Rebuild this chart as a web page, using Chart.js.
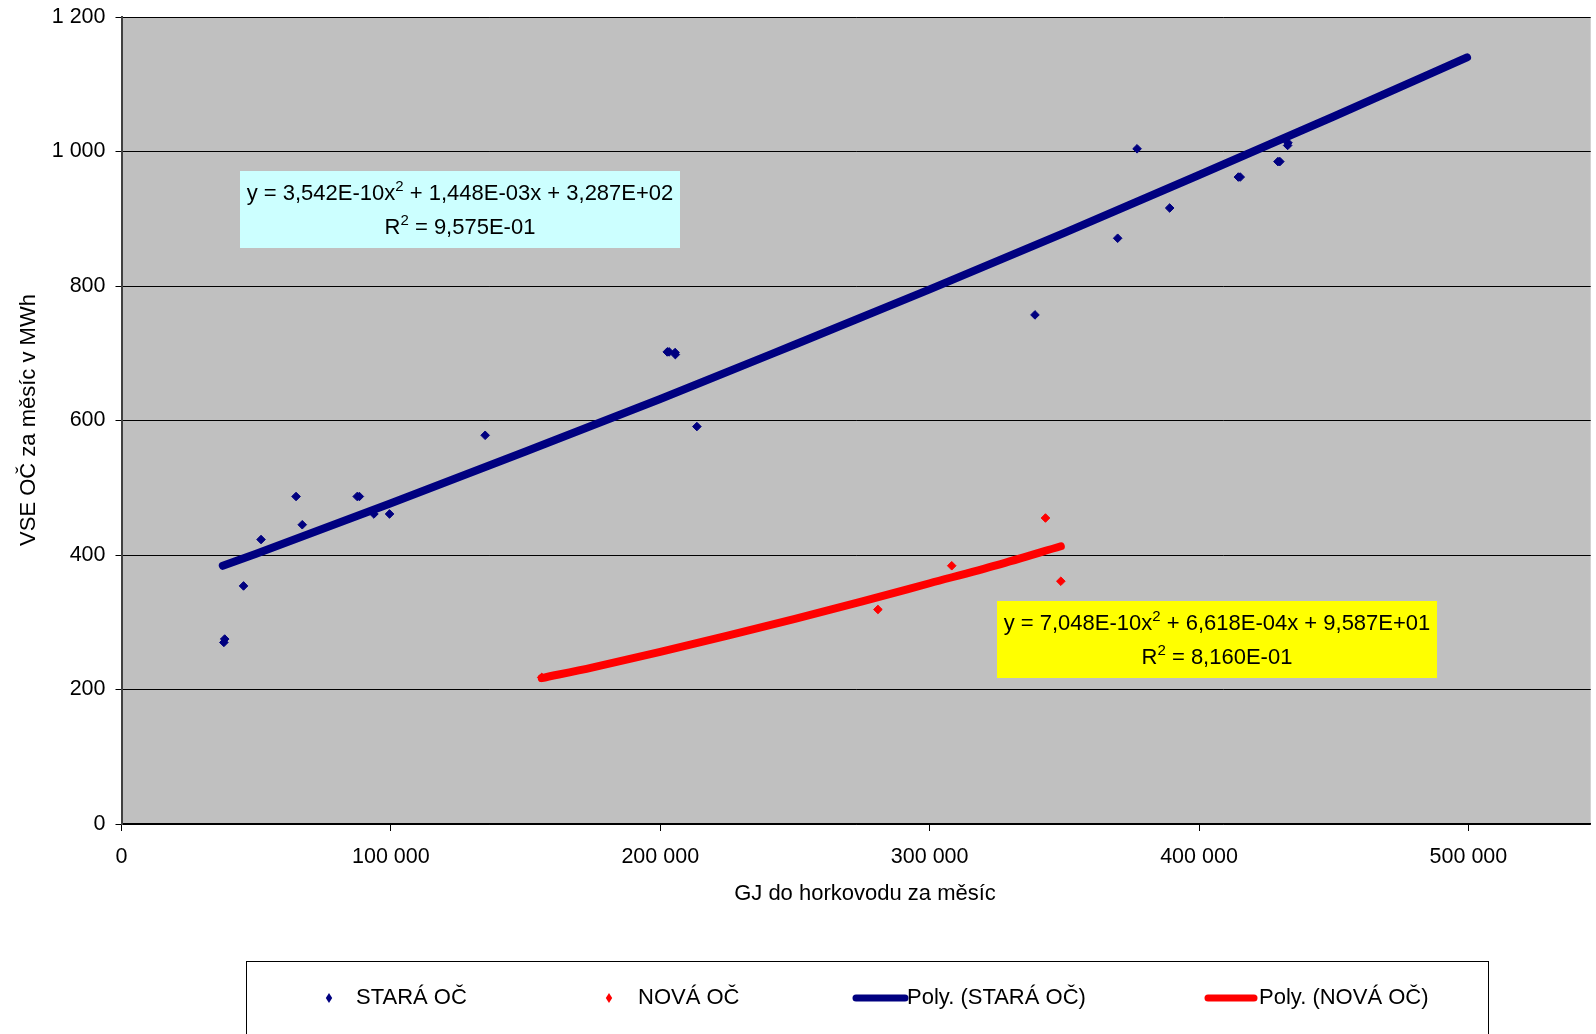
<!DOCTYPE html>
<html>
<head>
<meta charset="utf-8">
<script src="https://cdn.jsdelivr.net/npm/chart.js@4/dist/chart.umd.min.js"></script>
<style>
  html, body { margin: 0; padding: 0; background: #ffffff; }
  #wrap { width: 1596px; height: 1034px; position: relative; overflow: hidden; }
  canvas { display: block; }
</style>
</head>
<body>
<div id="wrap"><canvas id="chart" width="1596" height="1034"></canvas></div>
<script>
// Monthly heat delivered to the hot-water network (GJ) vs. electricity used (MWh)
const oldGJ  = [38000, 38300, 45300, 51800, 64800, 67100, 87500, 88300, 93700, 99500, 135000,
                202600, 203300, 205500, 205600, 213600, 339100, 369800, 377000, 389100,
                414600, 415300, 429300, 430000, 432900, 433000];
const oldMWh = [270, 275, 354, 423, 487, 445, 487, 487, 461, 461, 578,
                702, 702, 701, 698, 591, 757, 871, 1004, 916,
                962, 962, 985, 985, 1009, 1013];

const newGJ  = [156000, 280800, 308200, 343000, 348700];
const newMWh = [218, 319, 384, 455, 361];

// Polynomial trend curves (2nd order), sampled along the fitted range
const trendOldGJ  = [37600, 50000, 100000, 150000, 200000, 250000, 300000, 350000, 400000, 450000, 499500];
const trendOldMWh = [384, 402, 477, 554, 632, 713, 795, 879, 965, 1052, 1140];
const trendNewGJ  = [156000, 175000, 200000, 225000, 250000, 275000, 300000, 325000, 348700];
const trendNewMWh = [217, 233, 256, 280, 305, 331, 358, 385, 413];

// Series names
const seriesNames = ['STARÁ OČ', 'NOVÁ OČ', 'Poly. (STARÁ OČ)', 'Poly. (NOVÁ OČ)'];

// Axis titles and ticks
const xTitle = 'GJ do horkovodu za měsíc';
const yTitle = 'VSE OČ za měsíc v MWh';
const yTickValues = [0, 200, 400, 600, 800, 1000, 1200];
const xTickValues = [0, 100000, 200000, 300000, 400000, 500000];

// Trend equations; "^" marks a superscript digit
const eqOld = ['y = 3,542E-10x^2 + 1,448E-03x + 3,287E+02', 'R^2 = 9,575E-01'];
const eqNew = ['y = 7,048E-10x^2 + 6,618E-04x + 9,587E+01', 'R^2 = 8,160E-01'];

const FONT = "'Liberation Sans', Arial, sans-serif";
const NAVY = '#000080';
const RED = '#ff0000';

function toPoints(xs, ys) { return xs.map((x, i) => ({ x: x, y: ys[i] })); }
function spaced(v) { return String(Math.round(v)).replace(/\B(?=(\d{3})+(?!\d))/g, ' '); }

function drawRich(ctx, text, cx, baseline, size) {
  const parts = text.split(/\^(\d)/).map((t, i) => ({ t: t, sup: i % 2 === 1 }));
  const main = size + 'px ' + FONT, sup = Math.round(size * 0.66) + 'px ' + FONT;
  let w = 0;
  parts.forEach(p => { ctx.font = p.sup ? sup : main; w += ctx.measureText(p.t).width; });
  let x = cx - w / 2;
  ctx.textAlign = 'left';
  ctx.textBaseline = 'alphabetic';
  parts.forEach(p => {
    ctx.font = p.sup ? sup : main;
    ctx.fillText(p.t, x, p.sup ? baseline - size * 0.42 : baseline);
    x += ctx.measureText(p.t).width;
  });
}

const decorations = {
  id: 'decorations',
  beforeDraw(chart) {
    const { ctx, chartArea: a } = chart;
    ctx.save();
    ctx.fillStyle = '#c0c0c0';
    ctx.fillRect(a.left, a.top, a.right - a.left, a.bottom - a.top);
    ctx.restore();
  },
  afterDraw(chart) {
    const { ctx } = chart;
    ctx.save();

    // Equation boxes
    ctx.fillStyle = '#ccffff';
    ctx.fillRect(240, 171, 440, 77);
    ctx.fillStyle = '#000';
    drawRich(ctx, eqOld[0], 460, 200, 22);
    drawRich(ctx, eqOld[1], 460, 234, 22);

    ctx.fillStyle = '#ffff00';
    ctx.fillRect(997, 601, 440, 77);
    ctx.fillStyle = '#000';
    drawRich(ctx, eqNew[0], 1217, 630, 22);
    drawRich(ctx, eqNew[1], 1217, 664, 22);

    // Axis titles
    ctx.font = '22px ' + FONT;
    ctx.fillStyle = '#000';
    ctx.textAlign = 'center';
    ctx.textBaseline = 'middle';
    ctx.fillText(xTitle, 865, 894);
    ctx.save();
    ctx.translate(29, 420);
    ctx.rotate(-Math.PI / 2);
    ctx.fillText(yTitle, 0, 0);
    ctx.restore();

    // Legend
    ctx.strokeStyle = '#000';
    ctx.lineWidth = 1;
    ctx.strokeRect(246.5, 961.5, 1242, 120);
    const ds = chart.data.datasets;
    const ly = 998;
    ctx.font = '22px ' + FONT;
    ctx.textAlign = 'left';
    ctx.textBaseline = 'middle';
    // marker items
    [[0, 329, 356], [1, 609, 638]].forEach(([i, mx, tx]) => {
      ctx.fillStyle = ds[i].backgroundColor;
      ctx.beginPath();
      ctx.moveTo(mx, ly - 5);
      ctx.lineTo(mx + 3.2, ly);
      ctx.lineTo(mx, ly + 5);
      ctx.lineTo(mx - 3.2, ly);
      ctx.closePath();
      ctx.fill();
      ctx.fillStyle = '#000';
      ctx.fillText(ds[i].label, tx, ly);
    });
    // line items
    [[2, 856, 905, 907], [3, 1208, 1254, 1259]].forEach(([i, x1, x2, tx]) => {
      ctx.strokeStyle = ds[i].borderColor;
      ctx.lineWidth = 7;
      ctx.lineCap = 'round';
      ctx.beginPath();
      ctx.moveTo(x1, ly);
      ctx.lineTo(x2, ly);
      ctx.stroke();
      ctx.fillStyle = '#000';
      ctx.fillText(ds[i].label, tx, ly);
    });
    ctx.restore();
  }
};

new Chart(document.getElementById('chart'), {
  type: 'scatter',
  data: {
    datasets: [
      { label: seriesNames[0], data: toPoints(oldGJ, oldMWh), backgroundColor: NAVY, borderColor: NAVY,
        pointStyle: 'rectRot', pointRadius: 4.3, borderWidth: 1, order: 1 },
      { label: seriesNames[1], data: toPoints(newGJ, newMWh), backgroundColor: RED, borderColor: RED,
        pointStyle: 'rectRot', pointRadius: 4.3, borderWidth: 1, order: 1 },
      { label: seriesNames[2], data: toPoints(trendOldGJ, trendOldMWh), showLine: true, borderColor: NAVY,
        backgroundColor: NAVY, borderWidth: 8, pointRadius: 0, cubicInterpolationMode: 'monotone',
        borderCapStyle: 'round', order: 0 },
      { label: seriesNames[3], data: toPoints(trendNewGJ, trendNewMWh), showLine: true, borderColor: RED,
        backgroundColor: RED, borderWidth: 8, pointRadius: 0, cubicInterpolationMode: 'monotone',
        borderCapStyle: 'round', order: 0 }
    ]
  },
  options: {
    responsive: false,
    animation: false,
    devicePixelRatio: 1,
    layout: { padding: { top: 17, right: 0, bottom: 0, left: 0 } },
    plugins: { legend: { display: false }, tooltip: { enabled: false } },
    scales: {
      x: {
        type: 'linear', min: 0, max: 545400,
        afterFit(scale) { scale.height = 210; scale.paddingLeft = 0; scale.paddingRight = 0; },
        afterBuildTicks(scale) { scale.ticks = xTickValues.map(v => ({ value: v })); },
        ticks: { color: '#000', font: { family: FONT, size: 21.5 }, padding: 13, maxRotation: 0,
                 callback: v => spaced(v) },
        grid: { drawOnChartArea: false, drawTicks: true, tickLength: 7, color: '#000' },
        border: { display: true, color: '#000', width: 1.5 }
      },
      y: {
        type: 'linear', min: 0, max: 1200,
        afterFit(scale) { scale.width = 121.5; scale.paddingTop = 0; scale.paddingBottom = 0; },
        afterBuildTicks(scale) { scale.ticks = yTickValues.map(v => ({ value: v })); },
        ticks: { color: '#000', font: { family: FONT, size: 21.5 }, padding: 10,
                 callback: v => spaced(v) },
        grid: { color: '#000', lineWidth: 1, tickLength: 6, tickColor: '#000' },
        border: { display: true, color: '#404040', width: 2 }
      }
    }
  },
  plugins: [decorations]
});
</script>
</body>
</html>
